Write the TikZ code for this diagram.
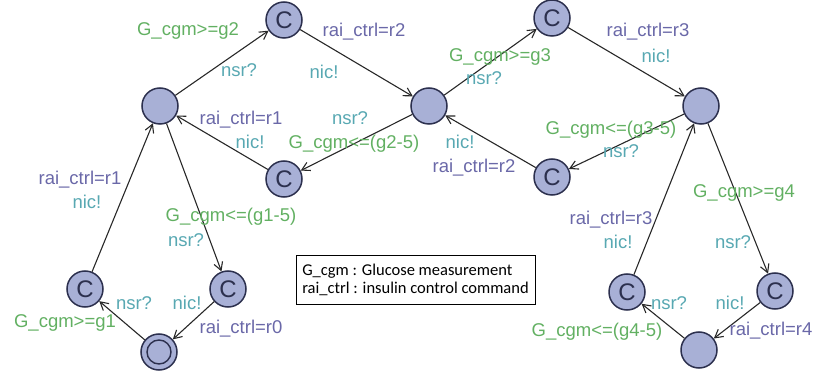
\documentclass[tikz,border=0pt]{standalone}
\usepackage{fontspec}
\setmainfont{Liberation Sans}
\newfontfamily\legendfont{Carlito}
\usetikzlibrary{arrows.meta}
\definecolor{locfill}{RGB}{168,176,214}
\definecolor{locdraw}{RGB}{44,48,78}
\definecolor{edgecol}{RGB}{40,40,40}
\definecolor{grcol}{RGB}{98,176,98}
\definecolor{tealcol}{RGB}{88,168,178}
\definecolor{purpcol}{RGB}{106,104,168}
\begin{document}
\begin{tikzpicture}[x=1pt,y=-1pt,
  loc/.style={circle,draw=locdraw,fill=locfill,line width=1.5pt,minimum size=36pt,inner sep=0pt},
  cloc/.style={loc,font=\fontsize{24}{24}\selectfont,text=locdraw},
  edge/.style={draw=edgecol,line width=1.1pt,-{Straight Barb[length=8pt,width=9pt,line width=1.1pt]}},
  lbl/.style={font=\fontsize{18.5}{18.5}\selectfont,inner sep=0pt,text height=0.72em,text depth=0.2em},
  grd/.style={lbl,text=grcol},
  syn/.style={lbl,text=tealcol},
  asg/.style={lbl,text=purpcol}
]
\useasboundingbox (0,0) rectangle (820,374);
% locations
\node[loc]  (A)   at (160,106) {};
\node[cloc] (C2)  at (284,20)  {C};
\node[cloc] (C1r) at (284,179) {C};
\node[loc]  (B)   at (429,106) {};
\node[cloc] (C3)  at (552,18)  {C};
\node[cloc] (C2r) at (552,177) {C};
\node[loc]  (D)   at (701,106) {};
\node[cloc] (C4L) at (627,292) {C};
\node[cloc] (C4R) at (775,291) {C};
\node[loc]  (E)   at (699,350) {};
\node[cloc] (CL)  at (85,289)  {C};
\node[cloc] (C0)  at (228,289) {C};
\node[loc]  (O)   at (159,352) {};
\draw[locdraw,line width=1.4pt] (O.center) circle (12pt);
% edges
\draw[edge] (O) -- (CL);
\draw[edge] (CL) -- (A);
\draw[edge] (A) -- (C0);
\draw[edge] (C0) -- (O);
\draw[edge] (A) -- (C2);
\draw[edge] (C2) -- (B);
\draw[edge] (B) -- (C1r);
\draw[edge] (C1r) -- (A);
\draw[edge] (B) -- (C3);
\draw[edge] (C3) -- (D);
\draw[edge] (D) -- (C2r);
\draw[edge] (C2r) -- (B);
\draw[edge] (D) -- (C4R);
\draw[edge] (C4R) -- (E);
\draw[edge] (E) -- (C4L);
\draw[edge] (C4L) -- (D);
% labels
\node[grd] (t1)  at (65,325)  {G\_cgm>=g1};
\node[syn] (t2)  at (134,307) {nsr?};
\node[asg] (t3)  at (80,182)  {rai\_ctrl=r1};
\node[syn] (t4)  at (87,206)  {nic!};
\node[grd] (t5)  at (231,219) {G\_cgm<=(g1-5)};
\node[syn] (t6)  at (186,244) {nsr?};
\node[syn] (t7)  at (187,307) {nic!};
\node[asg] (t8)  at (241,331) {rai\_ctrl=r0};
\node[grd] (t9)  at (188,33)  {G\_cgm>=g2};
\node[syn] (t10) at (239,74)  {nsr?};
\node[asg] (t11) at (241,122) {rai\_ctrl=r1};
\node[syn] (t12) at (250,146) {nic!};
\node[asg] (t13) at (364,34)  {rai\_ctrl=r2};
\node[syn] (t14) at (324,76)  {nic!};
\node[syn] (t15) at (350,122) {nsr?};
\node[grd] (t16) at (354,146) {G\_cgm<=(g2-5)};
\node[grd] (t17) at (500,59)  {G\_cgm>=g3};
\node[syn] (t18) at (484,82)  {nsr?};
\node[syn] (t19) at (460,146) {nic!};
\node[asg] (t20) at (474,170) {rai\_ctrl=r2};
\node[asg] (t21) at (648,34)  {rai\_ctrl=r3};
\node[syn] (t22) at (656,60)  {nic!};
\node[grd] (t23) at (611,132) {G\_cgm<=(g3-5)};
\node[syn] (t24) at (621,155) {nsr?};
\node[grd] (t25) at (744,195) {G\_cgm>=g4};
\node[syn] (t26) at (733,246) {nsr?};
\node[asg] (t27) at (611,222) {rai\_ctrl=r3};
\node[syn] (t28) at (618,246) {nic!};
\node[syn] (t29) at (669,307) {nsr?};
\node[syn] (t30) at (730,307) {nic!};
\node[grd] (t31) at (597,334) {G\_cgm<=(g4-5)};
\node[asg] (t32) at (771,333) {rai\_ctrl=r4};
% legend
\node[draw=black,line width=0.9pt,fill=white,align=left,minimum width=239pt,minimum height=49pt,inner sep=0pt,
  font=\legendfont\fontsize{16.5}{18}\selectfont] (leg) at (415.5,279.5)
  {G\_cgm : Glucose measurement\\rai\_ctrl : insulin control command};
\end{tikzpicture}
\end{document}
